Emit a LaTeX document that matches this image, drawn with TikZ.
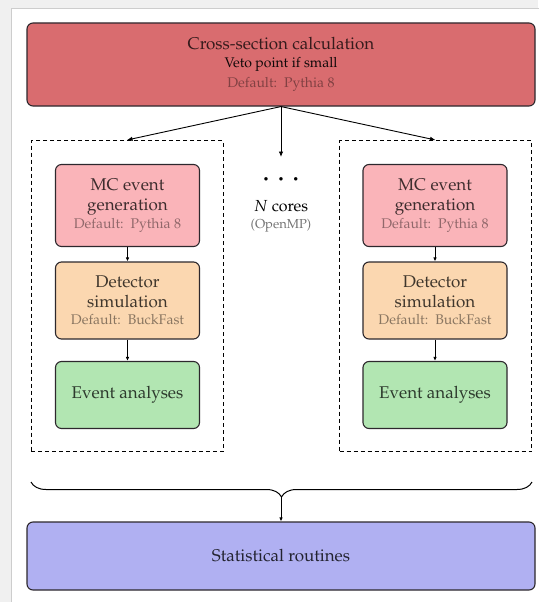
\documentclass[tikz,border=0pt]{standalone}
\usepackage[T1]{fontenc}
\usepackage{mathpazo}
\usetikzlibrary{arrows.meta,decorations.pathreplacing}
\definecolor{pagegray}{RGB}{240,240,240}
\definecolor{pageline}{RGB}{205,205,205}
\definecolor{topfill}{RGB}{217,108,111}
\definecolor{mcfill}{RGB}{250,180,185}
\definecolor{detfill}{RGB}{251,215,176}
\definecolor{anafill}{RGB}{178,230,178}
\definecolor{statfill}{RGB}{176,176,242}
\definecolor{edge}{RGB}{45,40,45}
\tikzset{
  box/.style={draw=edge, line width=1.1pt, rounded corners=6pt, inner sep=0pt, align=center,
    font=\fontsize{17}{20}\selectfont},
  corebox/.style={draw=black, line width=1pt, dashed, dash pattern=on 4pt off 3pt, inner sep=0pt,
    minimum width=192pt, minimum height=311pt},
  link/.style={draw=black, line width=0.9pt, -{Latex[length=5.5pt,width=4.5pt]}},
  smallarrow/.style={draw=black, line width=0.8pt, -{Latex[length=4pt,width=3.5pt]}},
}
\newcommand{\deftext}[2]{{\fontsize{14}{16}\selectfont\color{#1}#2}}
\begin{document}
\begin{tikzpicture}[x=1pt,y=-1pt]
  \useasboundingbox (0,0) rectangle (538,602);
  \fill[pagegray] (0,0) rectangle (538,602);
  \filldraw[fill=white, draw=pageline, line width=1pt] (11,8.5) rectangle (545,610);

  % top box
  \node[box, fill=topfill, text=topfill!25!black, minimum width=508pt, minimum height=83pt]
    (xsec) at (281,64.5) {Cross-section calculation\\[-1.5pt]
      {\fontsize{14}{15}\selectfont\color{topfill!8!black}Veto point if small}\\[0pt]
      \deftext{topfill!60!black}{Default:\ \ Pythia 8}};

  % dashed core boxes
  \node[corebox] (leftcore) at (127,296) {};
  \node[corebox] (rightcore) at (435.5,296) {};

  % left column
  \node[box, fill=mcfill, text=mcfill!25!black, minimum width=144pt, minimum height=82pt]
    (mcL) at (127.5,205.5) {MC event\\generation\\[-2.5pt]\deftext{mcfill!58!black}{Default:\ \ Pythia 8}};
  \node[box, fill=detfill, text=detfill!25!black, minimum width=144pt, minimum height=77pt]
    (detL) at (127.5,300.5) {Detector\\simulation\\[-2.5pt]\deftext{detfill!55!black}{Default:\ \ BuckFast}};
  \node[box, fill=anafill, text=anafill!25!black, minimum width=144pt, minimum height=67pt]
    (anaL) at (127.5,395) {Event analyses};

  % right column
  \node[box, fill=mcfill, text=mcfill!25!black, minimum width=144pt, minimum height=82pt]
    (mcR) at (435,205.5) {MC event\\generation\\[-2.5pt]\deftext{mcfill!58!black}{Default:\ \ Pythia 8}};
  \node[box, fill=detfill, text=detfill!25!black, minimum width=144pt, minimum height=77pt]
    (detR) at (435,300.5) {Detector\\simulation\\[-2.5pt]\deftext{detfill!55!black}{Default:\ \ BuckFast}};
  \node[box, fill=anafill, text=anafill!25!black, minimum width=144pt, minimum height=67pt]
    (anaR) at (435,395) {Event analyses};

  % middle: N cores
  \node[inner sep=0pt, font=\fontsize{8.5}{8.5}\selectfont] (dots) at (281,180)
    {$\bullet\hspace{8.5pt}\bullet\hspace{8.5pt}\bullet$};
  \node[inner sep=0pt, font=\fontsize{16}{18}\selectfont] (ncores) at (281,206) {$N$ cores};
  \node[inner sep=0pt, font=\fontsize{13}{15}\selectfont, text=black!55] (omp) at (281,226) {(OpenMP)};
  \coordinate (midend) at (281,157);

  % statistical routines
  \node[box, fill=statfill, text=statfill!20!black, minimum width=508pt, minimum height=68pt]
    (stat) at (281,556) {Statistical routines};

  % connectors
  \draw[link] (xsec.south) -- (leftcore.north);
  \draw[link] (xsec.south) -- (rightcore.north);
  \draw[link] (xsec.south) -- (midend);
  \draw[smallarrow] (mcL) -- (detL);
  \draw[smallarrow] (detL) -- (anaL);
  \draw[smallarrow] (mcR) -- (detR);
  \draw[smallarrow] (detR) -- (anaR);

  % brace
  \coordinate (braceL) at (31,482);
  \coordinate (braceR) at (532,482);
  \coordinate (braceTip) at (281,497);
  \draw[line width=1pt, decorate, decoration={brace, mirror, amplitude=15pt}] (braceL) -- (braceR);
  \draw[smallarrow] (braceTip) -- (stat.north);
\end{tikzpicture}
\end{document}
